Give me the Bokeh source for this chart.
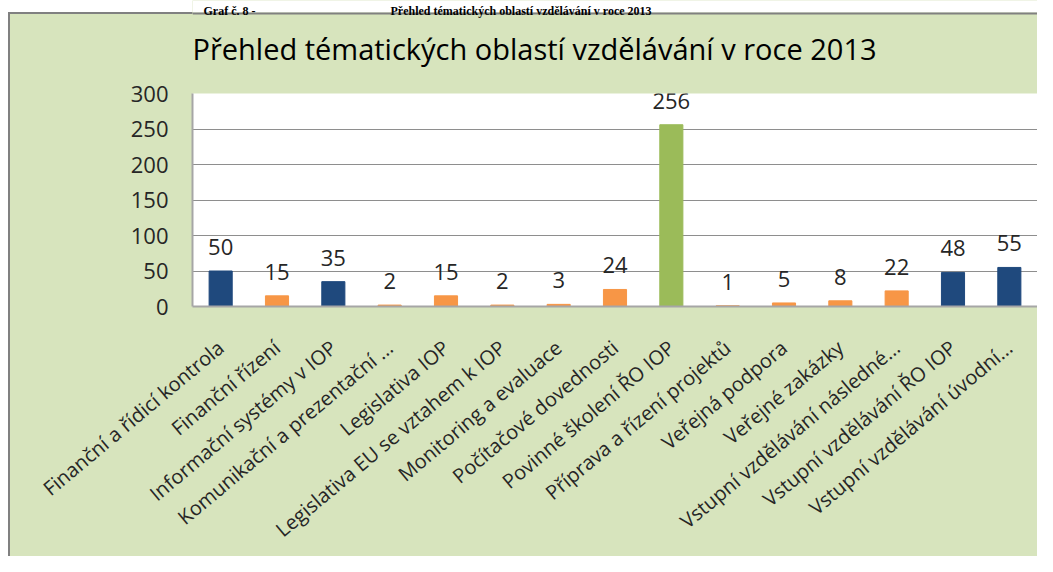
import math
from bokeh.plotting import figure
from bokeh.layouts import column
from bokeh.models import ColumnDataSource, LabelSet, FixedTicker, Range1d
from bokeh.core.properties import value
from bokeh.embed import file_html
from bokeh.resources import INLINE

# ---- data ----
categories = [
    "Finanční a řídicí kontrola",
    "Finanční řízení",
    "Informační systémy v IOP",
    "Komunikační a prezentační ...",
    "Legislativa IOP",
    "Legislativa EU se vztahem k IOP",
    "Monitoring a evaluace",
    "Počítačové dovednosti",
    "Povinné školení ŘO IOP",
    "Příprava a řízení projektů",
    "Veřejná podpora",
    "Veřejné zakázky",
    "Vstupní vzdělávání následné...",
    "Vstupní vzdělávání ŘO IOP",
    "Vstupní vzdělávání úvodní...",
]
values = [50, 15, 35, 2, 15, 2, 3, 24, 256, 1, 5, 8, 22, 48, 55]
groups = ["A", "B", "A", "B", "B", "B", "B", "B", "C", "B", "B", "B", "B", "A", "A"]
y_ticks = [0, 50, 100, 150, 200, 250, 300]
chart_title = "Přehled tématických oblastí vzdělávání v roce 2013"
header_left = "Graf č. 8 -"
header_right = "Přehled tématických oblastí vzdělávání v roce 2013"

# ---- styles ----
palette = {"A": "#1F497D", "B": "#F79646", "C": "#9BBB59"}
FONT = "Open Sans"
TEXT = "#262626"
GRID = "#8E8E8E"
AXIS = "#A6A6A6"
BG = "#D7E4BD"
EDGE = "#808080"
W, H = 1037, 556
TOP_H = 75
BOT_H = H - TOP_H
FRAME_L = 192

# ---- top strip: page header + chart title ----
top = figure(width=W, height=TOP_H, x_range=Range1d(FRAME_L, W), y_range=Range1d(TOP_H, 0),
             x_axis_type=None, y_axis_type=None,
             min_border_left=FRAME_L, min_border_right=0, min_border_top=0, min_border_bottom=0,
             output_backend="svg", toolbar_location=None,
             background_fill_color=BG, border_fill_alpha=0, outline_line_color=None)
top.styles = {
    "background": (
        "linear-gradient(to bottom, white 0px, white 12px, transparent 12px), "
        "linear-gradient(to right, white 0px, white 8px, transparent 8px), "
        f"linear-gradient(to bottom, transparent 12px, {EDGE} 12px, {EDGE} 14px, transparent 14px), "
        f"linear-gradient(to right, transparent 8px, {EDGE} 8px, {EDGE} 10px, transparent 10px), "
        f"{BG}"
    )
}
top.grid.grid_line_color = None
top.quad(left=[FRAME_L], right=[W], top=[0], bottom=[12], fill_color="white", line_color=None)
top.quad(left=[FRAME_L], right=[W], top=[12], bottom=[14], fill_color=EDGE, line_color=None)
top.text(x=[203, 390], y=[10, 10], text=[header_left, header_right],
         text_font=value("Liberation Serif"), text_font_style="bold",
         text_font_size="12px", text_color="black",
         text_align="left", text_baseline="alphabetic")
top.text(x=[534], y=[48], text=[chart_title],
         text_font=value(FONT), text_font_size="29px", text_color="black",
         text_align="center", text_baseline="middle")

# ---- main chart ----
src = ColumnDataSource(dict(
    cat=categories,
    val=values,
    lab=[str(v) for v in values],
    col=[palette[g] for g in groups],
))

p = figure(width=W, height=BOT_H, x_range=categories, y_range=(0, 300),
           output_backend="svg", toolbar_location=None,
           min_border_left=FRAME_L, min_border_right=0, min_border_top=18, min_border_bottom=250,
           border_fill_alpha=0, background_fill_color="white", outline_line_color=None)
p.styles = {
    "background": f"linear-gradient(to right, white 0px, white 8px, {EDGE} 8px, {EDGE} 10px, {BG} 10px)"
}

p.vbar(x="cat", top="val", width=0.41, color="col", source=src)

p.add_layout(LabelSet(x="cat", y="val", text="lab", source=src, y_offset=24,
                      text_align="center", text_baseline="middle",
                      text_font=value(FONT), text_font_size="22px", text_color=TEXT))

p.yaxis.ticker = FixedTicker(ticks=y_ticks)
p.yaxis.axis_line_color = AXIS
p.yaxis.axis_line_width = 2
p.yaxis.major_tick_line_color = None
p.yaxis.minor_tick_line_color = None
p.yaxis.major_label_standoff = 18
p.yaxis.major_label_text_font = FONT
p.yaxis.major_label_text_font_size = "22px"
p.yaxis.major_label_text_color = TEXT

p.xaxis.axis_line_color = AXIS
p.xaxis.axis_line_width = 2
p.xaxis.major_tick_line_color = None
p.xaxis.minor_tick_line_color = None
p.xaxis.major_label_orientation = math.radians(40)
p.xaxis.major_label_standoff = 32
p.xaxis.major_label_text_font = FONT
p.xaxis.major_label_text_font_size = "20px"
p.xaxis.major_label_text_color = TEXT

p.xgrid.grid_line_color = None
p.ygrid.grid_line_color = GRID
p.ygrid.grid_line_width = 1

layout = column(top, p)
open("out.html", "w").write(file_html(layout, INLINE))
